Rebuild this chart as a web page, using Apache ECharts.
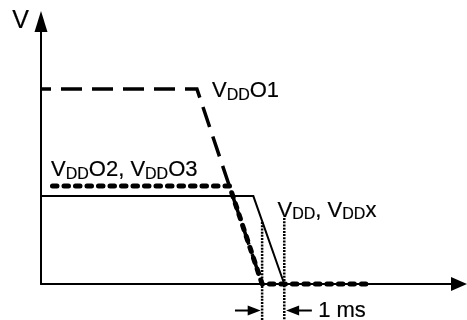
<!DOCTYPE html>
<html>
<head>
<meta charset="utf-8">
<script src="https://cdn.jsdelivr.net/npm/echarts@6/dist/echarts.min.js"></script>
<style>
  html, body { margin: 0; padding: 0; background: #fff; }
  #chart { width: 467px; height: 320px; }
</style>
</head>
<body>
<div id="chart"></div>
<script>
// Schematic power-down sequence (arbitrary units: x = time, y = voltage)
const vddO1 = [[0, 74.3], [37.3, 74.3], [52.9, 0]];
const vddO2O3 = [[2.75, 37.3], [45.1, 37.3], [52.9, 0], [78.6, 0]];
const vdd = [[0, 33.5], [50.8, 33.5], [58.2, 0]];
const markerLeft = [[52.9, 23.6], [52.9, -14]];
const markerRight = [[58.2, 25.1], [58.2, -14]];
const arrowLeft = [[46.4, -10.1], [51.0, -10.1]];
const arrowRight = [[64.8, -10.1], [60.2, -10.1]];
const labelPoints = [[40.9, 73.5], [2.4, 43.4], [56.6, 28.0], [66.3, -10.3]];
const labelTexts = [
  '{m|V}{s|DD}{m|O1}',
  '{m|V}{s|DD}{m|O2, V}{s|DD}{m|O3}',
  '{m|V}{s|DD}{m|, V}{s|DD}{m|x}',
  '{m|1 ms}'
];
const axisName = 'V';

const FONT = '"Liberation Sans", Arial, Helvetica, sans-serif';
const chart = echarts.init(document.getElementById('chart'));

function arrowData(pts, rot) {
  return [
    { value: pts[0], symbol: 'none' },
    { value: pts[1], symbol: 'triangle', symbolRotate: rot, symbolSize: [10, 13] }
  ];
}

const txt = { fontFamily: FONT, color: '#000', textBorderColor: '#000', textBorderWidth: 0.2 };

chart.setOption({
  animation: false,
  backgroundColor: '#fff',
  grid: { left: 41, right: 8, top: 21.5, bottom: 36, containLabel: false },
  xAxis: {
    type: 'value', min: 0, max: 100,
    axisLine: { show: true, symbol: ['none', 'triangle'], symbolSize: [14, 16],
      lineStyle: { color: '#000', width: 2 } },
    axisTick: { show: false }, axisLabel: { show: false }, splitLine: { show: false }
  },
  yAxis: {
    type: 'value', min: 0, max: 100,
    name: axisName, nameLocation: 'end', nameGap: 0,
    nameTextStyle: Object.assign({ fontSize: 25, align: 'right',
      verticalAlign: 'middle', padding: [0, 12, 0, 0] }, txt),
    axisLine: { show: true, symbol: ['none', 'triangle'], symbolSize: [13, 21],
      lineStyle: { color: '#000', width: 2 } },
    axisTick: { show: false }, axisLabel: { show: false }, splitLine: { show: false }
  },
  series: [
    { type: 'line', data: vdd, symbol: 'none', clip: false,
      lineStyle: { color: '#000', width: 2, join: 'miter' } },
    { type: 'line', data: vddO1, symbol: 'none', clip: false,
      lineStyle: { color: '#000', width: 3.5, type: [21, 10], dashOffset: 11, join: 'miter' } },
    { type: 'line', data: vddO2O3, symbol: 'none', clip: false,
      lineStyle: { color: '#000', width: 5, type: [4.5, 7], cap: 'round', join: 'round' } },
    { type: 'line', data: markerLeft, symbol: 'none', clip: false,
      lineStyle: { color: '#000', width: 2.5, type: [2, 1.2] } },
    { type: 'line', data: markerRight, symbol: 'none', clip: false,
      lineStyle: { color: '#000', width: 2.5, type: [2, 1.2] } },
    { type: 'line', data: arrowData(arrowLeft, -90), clip: false, showSymbol: true,
      itemStyle: { color: '#000' }, lineStyle: { color: '#000', width: 2 } },
    { type: 'line', data: arrowData(arrowRight, 90), clip: false, showSymbol: true,
      itemStyle: { color: '#000' }, lineStyle: { color: '#000', width: 2 } },
    { type: 'scatter', clip: false, symbolSize: 0, silent: true,
      itemStyle: { color: '#000', opacity: 1 },
      data: labelPoints.map((p, i) => ({ value: p, label: { formatter: labelTexts[i] } })),
      label: {
        show: true, position: 'right', distance: 0, color: '#000', opacity: 1,
        rich: {
          m: Object.assign({ fontSize: 22, lineHeight: 25 }, txt),
          s: Object.assign({ fontSize: 16, lineHeight: 16, verticalAlign: 'bottom' }, txt)
        }
      }
    }
  ]
});
</script>
</body>
</html>
